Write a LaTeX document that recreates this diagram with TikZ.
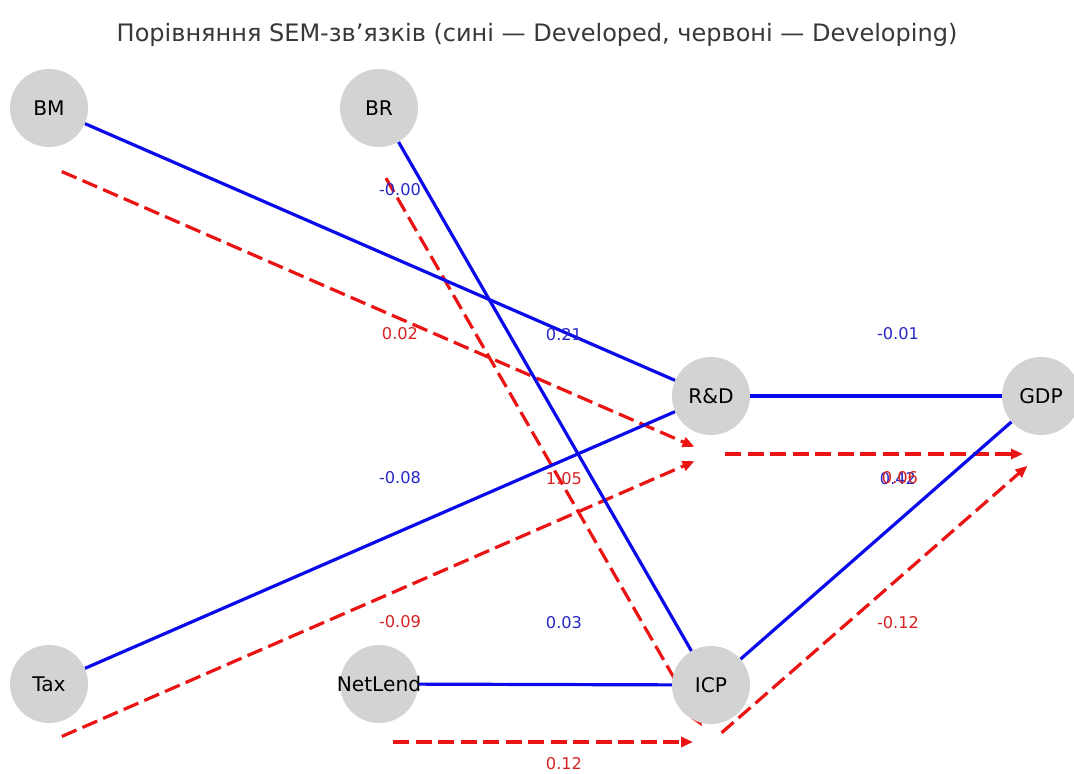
\documentclass[tikz,border=0pt]{standalone}
\usepackage{fontspec}
\setmainfont{DejaVu Sans}
\usetikzlibrary{arrows.meta,calc}
\definecolor{nodegray}{HTML}{D3D3D3}
\definecolor{devblue}{RGB}{10,10,235}
\definecolor{dvgred}{RGB}{235,20,20}
\definecolor{lblblue}{RGB}{40,40,200}
\definecolor{lblred}{RGB}{215,35,35}
\begin{document}
\begin{tikzpicture}[x=1pt,y=-1pt,
  nd/.style={circle,fill=nodegray,minimum size=78pt,inner sep=0pt},
  nt/.style={font=\fontsize{20.2}{21}\selectfont,text=black,inner sep=0pt},
  dev/.style={draw=devblue,line width=3.2pt},
  dvg/.style={draw=dvgred,line width=3.2pt,dash pattern=on 16pt off 6.5pt,
    -{Triangle[length=12pt,width=10pt]},shorten <=14pt,shorten >=18pt},
  lb/.style={font=\fontsize{16.2}{17}\selectfont,inner sep=0pt},
]
\useasboundingbox[fill=white] (0,0) rectangle (1074,774);

\node[font=\fontsize{24}{26}\selectfont,text=black!78,anchor=base,inner sep=0pt] (title) at (537,41)
  {Порівняння SEM-зв’язків (сині — Developed, червоні — Developing)};

% node positions
\coordinate (pBM) at (49,108);
\coordinate (pBR) at (379,108);
\coordinate (pRD) at (711,396);
\coordinate (pGDP) at (1041,396);
\coordinate (pTax) at (49,684);
\coordinate (pNL) at (379,684);
\coordinate (pICP) at (711,685);

% shifted coordinates for developing edges
\coordinate (rBM) at (49,166);
\coordinate (rBR) at (379,166);
\coordinate (rRD) at (711,454);
\coordinate (rGDP) at (1041,454);
\coordinate (rTax) at (49,742);
\coordinate (rNL) at (379,742);
\coordinate (rICP) at (711,742);

% circles (outline-free, for anchoring edges)
\node[nd,fill=none] (BM) at (pBM) {};
\node[nd,fill=none] (BR) at (pBR) {};
\node[nd,fill=none] (RD) at (pRD) {};
\node[nd,fill=none] (GDP) at (pGDP) {};
\node[nd,fill=none] (Tax) at (pTax) {};
\node[nd,fill=none] (NL) at (pNL) {};
\node[nd,fill=none] (ICP) at (pICP) {};

% developing (red dashed)
\draw[dvg] (rBM) -- (rRD);
\draw[dvg] (rTax) -- (rRD);
\draw[dvg] (rBR) -- (rICP);
\draw[dvg] (rNL) -- (rICP);
\draw[dvg] (rRD) -- (rGDP);
\draw[dvg] (rICP) -- (rGDP);

% developed (blue solid)
\draw[dev] (BM) -- (RD);
\draw[dev] (Tax) -- (RD);
\draw[dev] (BR) -- (ICP);
\draw[dev] (NL) -- (ICP);
\draw[dev] (RD) -- (GDP);
\draw[dev] (ICP) -- (GDP);

% filled circles and texts on top
\foreach \n in {BM,BR,RD,GDP,Tax,NL,ICP} {\fill[nodegray] (\n) circle (39pt);}
\node[nt] (tBM) at (pBM) {BM};
\node[nt] (tBR) at (pBR) {BR};
\node[nt] (tRD) at (pRD) {R\&D};
\node[nt] (tGDP) at (pGDP) {GDP};
\node[nt] (tTax) at (pTax) {Tax};
\node[nt] (tNL) at (pNL) {NetLend};
\node[nt] (tICP) at (pICP) {ICP};

% labels: developed (blue)
\node[lb,text=lblblue] (b1) at ($(pBM)!0.5!(pRD)+(20,-62)$) {-0.00};
\node[lb,text=lblblue] (b2) at ($(pTax)!0.5!(pRD)+(20,-62)$) {-0.08};
\node[lb,text=lblblue] (b3) at ($(pBR)!0.5!(pICP)+(19,-62)$) {0.21};
\node[lb,text=lblblue] (b4) at ($(pNL)!0.5!(pICP)+(19,-62)$) {0.03};
\node[lb,text=lblblue] (b5) at ($(pRD)!0.5!(pGDP)+(22,-62)$) {-0.01};
\node[lb,text=lblblue] (b6) at ($(pICP)!0.5!(pGDP)+(22,-62)$) {0.42};
% labels: developing (red)
\node[lb,text=lblred] (r1) at ($(pBM)!0.5!(pRD)+(20,82)$) {0.02};
\node[lb,text=lblred] (r2) at ($(pTax)!0.5!(pRD)+(20,82)$) {-0.09};
\node[lb,text=lblred] (r3) at ($(pBR)!0.5!(pICP)+(19,82)$) {1.05};
\node[lb,text=lblred] (r4) at ($(pNL)!0.5!(pICP)+(19,79)$) {0.12};
\node[lb,text=lblred] (r5) at ($(pRD)!0.5!(pGDP)+(24,82)$) {0.06};
\node[lb,text=lblred] (r6) at ($(pICP)!0.5!(pGDP)+(22,82)$) {-0.12};
\end{tikzpicture}
\end{document}
